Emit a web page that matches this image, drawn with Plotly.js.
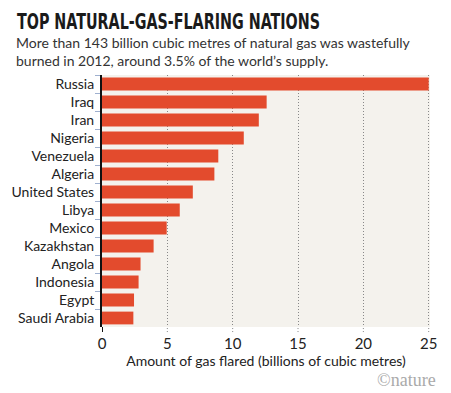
<!DOCTYPE html>
<html><head><meta charset="utf-8">
<script src="https://cdn.plot.ly/plotly-3.0.1.min.js"></script>
<style>html,body{margin:0;padding:0;background:#fff;}</style>
</head><body>
<div id="chart" style="width:451px;height:393px;"></div>
<script>
const countries = ["Russia","Iraq","Iran","Nigeria","Venezuela","Algeria","United States","Libya","Mexico","Kazakhstan","Angola","Indonesia","Egypt","Saudi Arabia"];
const flared = [25.0, 12.6, 12.0, 10.85, 8.9, 8.6, 6.95, 5.95, 4.95, 3.95, 2.95, 2.8, 2.45, 2.4];
const xTicks = [0, 5, 10, 15, 20, 25];

const font = "Lato, 'Open Sans', sans-serif";
const data = [{
  type: "bar", orientation: "h",
  x: flared, y: countries,
  marker: {color: "#e34b2d"},
  width: 0.71,
  hoverinfo: "skip"
}];
const layout = {
  width: 451, height: 393,
  margin: {l: 102, r: 21, t: 75, b: 66},
  paper_bgcolor: "#ffffff",
  plot_bgcolor: "#f4f2ed",
  showlegend: false,
  font: {family: font, color: "#222", size: 14},
  xaxis: {
    range: [0, 25.1], tickvals: xTicks, ticktext: xTicks.map(String),
    showgrid: true, gridcolor: "#888", griddash: "1px,2px", gridwidth: 1,
    zeroline: false, showline: false, ticks: "", ticklabelstandoff: 6,
    tickfont: {size: 15, color: "#222"},
    title: {text: "Amount of gas flared (billions of cubic metres)", font: {size: 14, color: "#222"}, standoff: 4}
  },
  yaxis: {
    type: "category", autorange: "reversed",
    showline: true, linecolor: "#111", linewidth: 2,
    ticks: "outside", tickson: "boundaries", ticklen: 5, tickcolor: "#9fb0cf", tickwidth: 1,
    ticklabelstandoff: 3,
    showgrid: false, zeroline: false,
    tickfont: {size: 14, color: "#222"}
  },
  shapes: xTicks.map(v => ({type: "line", xref: "x", yref: "paper", x0: v, x1: v, y0: -0.02, y1: 0,
      line: v === 0 ? {color: "#111", width: 2} : {color: "#888", width: 1, dash: "1px,2px"}})),
  annotations: [
    {xref: "paper", yref: "paper", x: 0, y: 1, xanchor: "left", yanchor: "top", showarrow: false,
     text: "TOP NATURAL-GAS-FLARING NATIONS", font: {family: "'DejaVu Sans Condensed', 'DejaVu Sans', sans-serif", size: 22, color: "#1a1a1a", weight: "bold"},
     xshift: -86, yshift: 68},
    {xref: "paper", yref: "paper", x: 0, y: 1, xanchor: "left", yanchor: "top", align: "left", showarrow: false,
     text: "More than 143 billion cubic metres of natural gas was wastefully<br>burned in 2012, around 3.5% of the world’s supply.",
     font: {size: 14, color: "#333"}, xshift: -88, yshift: 43},
    {xref: "paper", yref: "paper", x: 1, y: 0, xanchor: "right", yanchor: "top", showarrow: false,
     text: "©nature", font: {family: "'Liberation Serif', serif", size: 18, color: "#aaa"}, xshift: 8, yshift: -41}
  ]
};
Plotly.newPlot("chart", data, layout, {displayModeBar: false, staticPlot: true}).then(gd => {
  const t = gd.querySelector('.annotation[data-index="0"] text');
  if (t) {
    t.setAttribute("textLength", "303");
    t.setAttribute("lengthAdjust", "spacingAndGlyphs");
    const r = t.getBoundingClientRect();
    const x0 = parseFloat(t.getAttribute("x") || "0");
    t.setAttribute("x", String(x0 + (17 - r.left)));
  }
});
</script>
</body></html>
